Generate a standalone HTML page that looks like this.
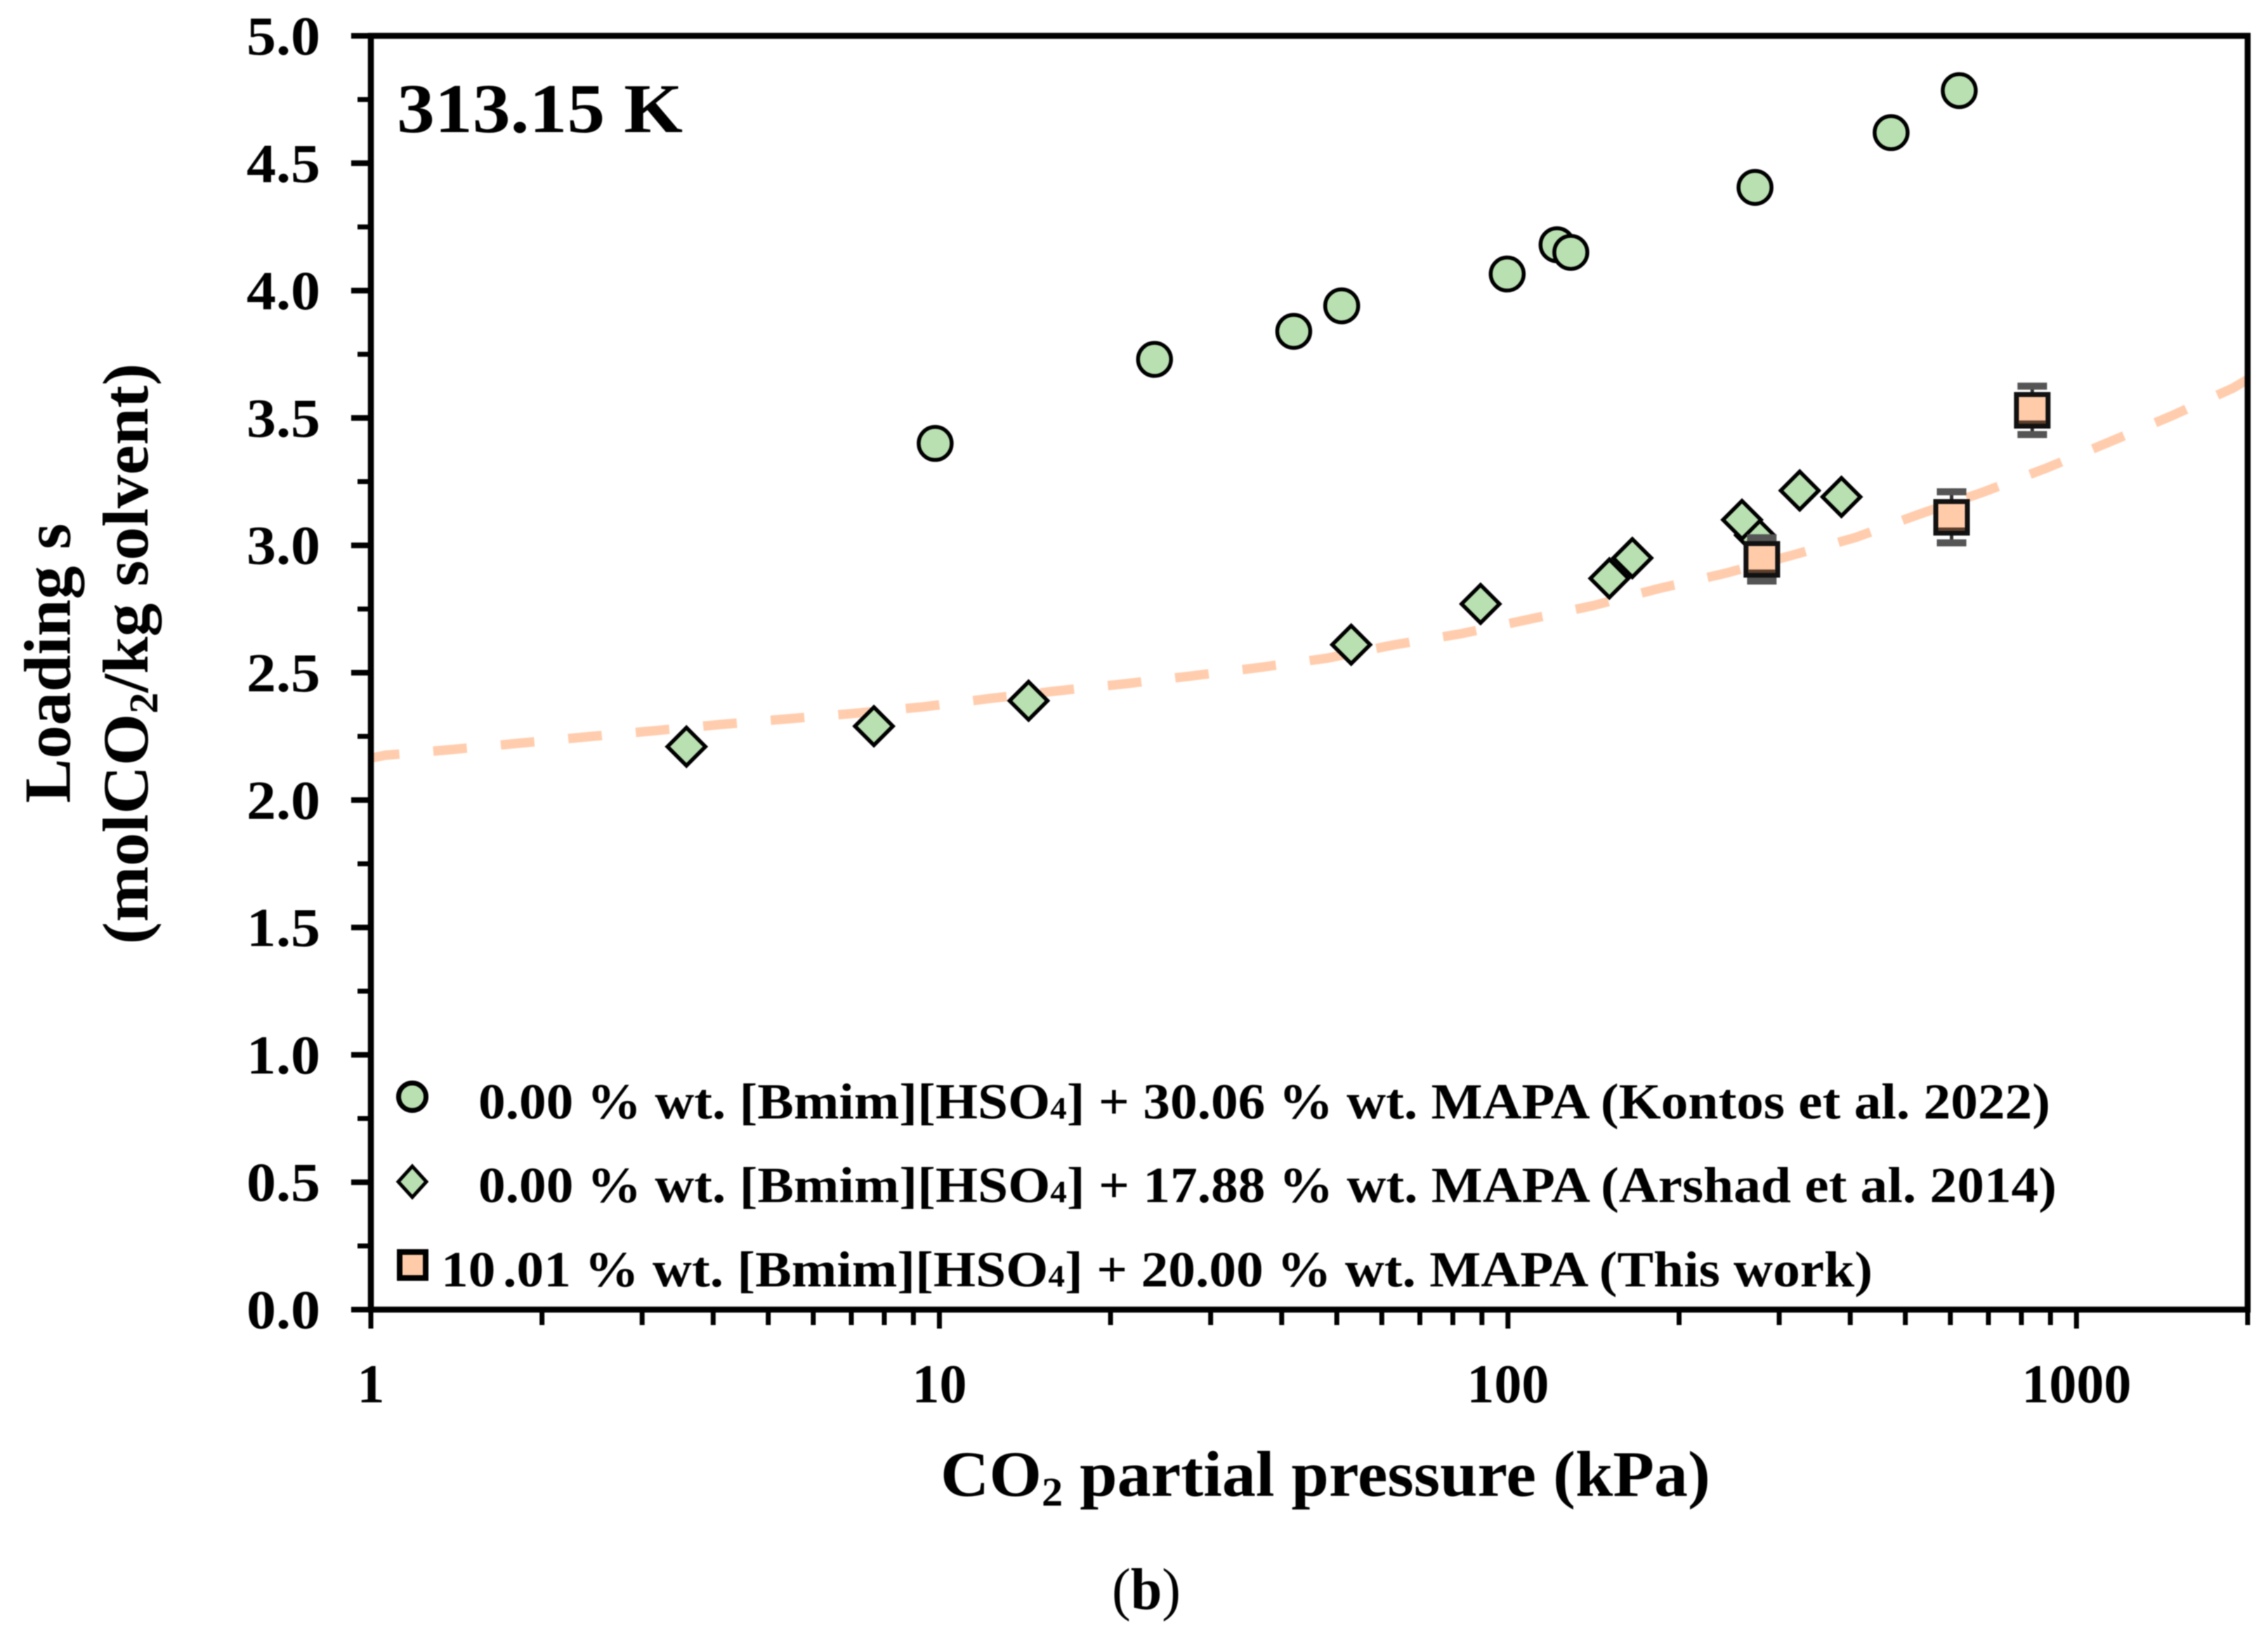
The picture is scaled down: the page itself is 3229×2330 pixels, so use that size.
<!DOCTYPE html>
<html lang="en">
<head>
<meta charset="utf-8">
<title>CO2 loading vs partial pressure at 313.15 K</title>
<style>
html,body{margin:0;padding:0;background:#fff;}
svg{display:block;filter:blur(0.9px);}
text{font-family:"Liberation Serif","DejaVu Serif",serif;font-weight:bold;fill:#000;}
</style>
</head>
<body>
<svg id="chart" xmlns="http://www.w3.org/2000/svg" width="3229" height="2330" viewBox="0 0 3229 2330">
  <rect x="0" y="0" width="3229" height="2330" fill="#fff"/>
  <g id="layer-curve"></g>
  <g id="layer-axes"></g>
  <g id="layer-circles"></g>
  <g id="layer-diamonds"></g>
  <g id="layer-squares"></g>

  <text x="565" y="188" font-size="100" textLength="407" lengthAdjust="spacingAndGlyphs">313.15 K</text>

  <text transform="translate(99.5,1143) rotate(-90)" font-size="94" textLength="398" lengthAdjust="spacingAndGlyphs">Loading s</text>
  <text transform="translate(210,1344) rotate(-90)" font-size="92" textLength="827" lengthAdjust="spacingAndGlyphs">(molCO<tspan font-size="58" dy="14">2</tspan><tspan dy="-14">/kg solvent)</tspan></text>

  <text x="1339" y="2129" font-size="92" textLength="1096" lengthAdjust="spacingAndGlyphs">CO<tspan font-size="58" dy="14">2</tspan><tspan dy="-14"> partial pressure (kPa)</tspan></text>

  <text x="1583" y="2290" font-size="84" textLength="98" lengthAdjust="spacingAndGlyphs"><tspan font-weight="normal">(</tspan>b<tspan font-weight="normal">)</tspan></text>

  <g>
    <circle cx="587" cy="1561" r="19.5" fill="#B9E0B1" stroke="#000" stroke-width="7"/>
    <text x="681" y="1592" font-size="72" textLength="2238" lengthAdjust="spacingAndGlyphs">0.00 % wt. [Bmim][HSO<tspan font-size="44">4</tspan>] + 30.06 % wt. MAPA (Kontos et al. 2022)</text>
    <polygon points="587,1660 607,1682 587,1704 567,1682" fill="#B9E0B1" stroke="#000" stroke-width="5"/>
    <text x="681" y="1711" font-size="72" textLength="2247" lengthAdjust="spacingAndGlyphs">0.00 % wt. [Bmim][HSO<tspan font-size="44">4</tspan>] + 17.88 % wt. MAPA (Arshad et al. 2014)</text>
    <rect x="569" y="1782" width="37" height="37" fill="#FFCBA8" stroke="#000" stroke-width="8"/>
    <text x="628" y="1831" font-size="72" textLength="2038" lengthAdjust="spacingAndGlyphs">10<tspan dx="10">.01</tspan> % wt. [Bmim][HSO<tspan font-size="44">4</tspan>] + 20.00 % wt. MAPA (This work)</text>
  </g>
</svg>
<script>
const xMajorTicks = [1, 10, 100, 1000];
const xMinorTicks = [2, 3, 4, 5, 6, 7, 8, 9, 20, 30, 40, 50, 60, 70, 80, 90, 200, 300, 400, 500, 600, 700, 800, 900, 2000];
const yMajorTicks = ["0.0", "0.5", "1.0", "1.5", "2.0", "2.5", "3.0", "3.5", "4.0", "4.5", "5.0"];
const yMinorTicks = [0.25, 0.75, 1.25, 1.75, 2.25, 2.75, 3.25, 3.75, 4.25, 4.75];

const circlePressure = [9.83, 23.9, 42, 51, 99.7, 122, 129, 272, 472, 622];
const circleLoading = [3.40, 3.73, 3.84, 3.94, 4.065, 4.18, 4.15, 4.405, 4.62, 4.785];

const diamondPressure = [3.59, 7.67, 14.35, 53, 89.5, 150.8, 165.5, 272, 258, 326, 386];
const diamondLoading = [2.21, 2.29, 2.39, 2.61, 2.77, 2.87, 2.95, 3.04, 3.10, 3.215, 3.19];

const squarePressure = [279.6, 603, 836];
const squareLoading = [2.945, 3.11, 3.53];
const squareError = [0.085, 0.10, 0.095];

const curvePressure = [1, 1.06, 1.38, 1.82, 2.39, 3.14, 4.13, 5.42, 7.13, 9.37, 12.3, 16.3, 21.3, 27.9, 36.7, 48.1, 62.9, 82.7, 108, 141, 184, 241, 317, 409, 524, 687, 887, 1143, 1469, 1887, 2000];
const curveLoading = [2.165, 2.176, 2.198, 2.223, 2.248, 2.272, 2.297, 2.319, 2.341, 2.366, 2.399, 2.43, 2.457, 2.488, 2.521, 2.557, 2.609, 2.653, 2.708, 2.763, 2.83, 2.89, 2.962, 3.031, 3.119, 3.21, 3.304, 3.406, 3.508, 3.618, 3.651];

const PLOT_LEFT = 528, PLOT_RIGHT = 3200, PLOT_TOP = 51, PLOT_BOTTOM = 1864;
const X_MAX = 2000, Y_MAX = 5;
const NS = "http://www.w3.org/2000/svg";

function xScale(p) {
  return PLOT_LEFT + (PLOT_RIGHT - PLOT_LEFT) * Math.log10(p) / Math.log10(X_MAX);
}
function yScale(v) {
  return PLOT_BOTTOM - (PLOT_BOTTOM - PLOT_TOP) * v / Y_MAX;
}
function make(tag, parent, props) {
  const el = document.createElementNS(NS, tag);
  for (const k in props) el.setAttribute(k, props[k]);
  parent.appendChild(el);
  return el;
}

const curveLayer = document.getElementById("layer-curve");
const axesLayer = document.getElementById("layer-axes");
const circleLayer = document.getElementById("layer-circles");
const diamondLayer = document.getElementById("layer-diamonds");
const squareLayer = document.getElementById("layer-squares");

/* model curve */
let curvePath = "";
curvePressure.forEach(function (p, i) {
  curvePath += (i ? "L" : "M") + xScale(p).toFixed(1) + " " + yScale(curveLoading[i]).toFixed(1);
});
const curve = make("path", curveLayer, {d: curvePath, fill: "none", stroke: "#FFCDAE", "stroke-width": 13.5, "stroke-dasharray": "48 48.5", "stroke-dashoffset": 7});



/* frame */
const frame = make("rect", axesLayer, {x: PLOT_LEFT, y: PLOT_TOP, width: PLOT_RIGHT - PLOT_LEFT, height: PLOT_BOTTOM - PLOT_TOP, fill: "none", stroke: "#000", "stroke-width": 8.5});



/* x ticks */
xMajorTicks.forEach(function (p) {
  const x = xScale(p);
  const tick = make("line", axesLayer, {x1: x, x2: x, y1: PLOT_BOTTOM, y2: 1891, stroke: "#000", "stroke-width": 7});
  
  
  const label = make("text", axesLayer, {x: x, y: 1996, "font-size": 78, "text-anchor": "middle"});
  label.textContent = String(p);
  
  
});
xMinorTicks.forEach(function (p) {
  const x = xScale(p);
  const tick = make("line", axesLayer, {x1: x, x2: x, y1: PLOT_BOTTOM, y2: 1886, stroke: "#000", "stroke-width": 7});
  
  
});

/* y ticks */
yMajorTicks.forEach(function (t) {
  const y = yScale(parseFloat(t));
  const tick = make("line", axesLayer, {x1: 500, x2: PLOT_LEFT, y1: y, y2: y, stroke: "#000", "stroke-width": 8});
  
  
  const label = make("text", axesLayer, {x: 351, y: y + 26.5, "font-size": 78, textLength: 105, lengthAdjust: "spacingAndGlyphs"});
  label.textContent = t;
  
  
});
yMinorTicks.forEach(function (v) {
  const y = yScale(v);
  const tick = make("line", axesLayer, {x1: 509, x2: PLOT_LEFT, y1: y, y2: y, stroke: "#000", "stroke-width": 7});
  
  
});

/* circle series */
circlePressure.forEach(function (p, i) {
  const dot = make("circle", circleLayer, {cx: xScale(p), cy: yScale(circleLoading[i]), r: 23.5, fill: "#B9E0B1", stroke: "#000", "stroke-width": 5.5});
  
  
});

/* diamond series */
diamondPressure.forEach(function (p, i) {
  const cx = xScale(p), cy = yScale(diamondLoading[i]), r = 27;
  const pts = [[cx, cy - r], [cx + r, cy], [cx, cy + r], [cx - r, cy]].map(function (q) { return q[0].toFixed(1) + "," + q[1].toFixed(1); }).join(" ");
  const d = make("polygon", diamondLayer, {points: pts, fill: "#B9E0B1", stroke: "#000", "stroke-width": 5.5});
  
  
});

/* square series with error bars */
squarePressure.forEach(function (p, i) {
  const cx = xScale(p), cy = yScale(squareLoading[i]);
  const hi = yScale(squareLoading[i] + squareError[i]), lo = yScale(squareLoading[i] - squareError[i]);
  const stem = make("line", squareLayer, {x1: cx, x2: cx, y1: hi, y2: lo, stroke: "#333", "stroke-width": 5});
  
  
  const capTop = make("line", squareLayer, {x1: cx - 21, x2: cx + 21, y1: hi, y2: hi, stroke: "#555", "stroke-width": 10});
  
  
  const capBottom = make("line", squareLayer, {x1: cx - 21, x2: cx + 21, y1: lo, y2: lo, stroke: "#555", "stroke-width": 10});
  
  
  const sq = make("rect", squareLayer, {x: cx - 22.5, y: cy - 22.5, width: 45, height: 45, fill: "#FFCBA8", stroke: "#111", "stroke-width": 7});
  
  
  const strip = make("rect", squareLayer, {x: cx - 19, y: cy + 14.5, width: 38, height: 4.5, fill: "#5a3d2b"});
  
  
});
</script>
</body>
</html>
